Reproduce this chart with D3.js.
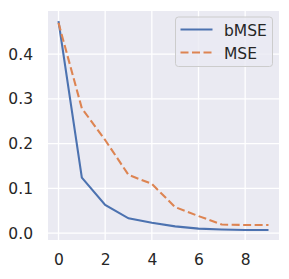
<!DOCTYPE html>
<html lang="en">
<head>
<meta charset="utf-8">
<title>bMSE vs MSE</title>
<script src="https://cdn.jsdelivr.net/npm/d3@7"></script>
<style>
body { margin: 0; background: #fff; }
text { font-family: "DejaVu Sans", sans-serif; fill: #262626; }
</style>
</head>
<body>
<script>
// data
var epochs = [0, 1, 2, 3, 4, 5, 6, 7, 8, 9];
var bmse = [0.474, 0.124, 0.063, 0.033, 0.023, 0.015, 0.010, 0.008, 0.007, 0.007];
var mse = [0.470, 0.279, 0.208, 0.130, 0.110, 0.058, 0.038, 0.019, 0.018, 0.018];
var xTicks = [0, 2, 4, 6, 8];
var yTicks = [0.0, 0.1, 0.2, 0.3, 0.4];
var names = ["bMSE", "MSE"];
var colors = ["#4c72b0", "#dd8452"];

var W = 289, H = 279;
var m = {left: 48, top: 11, right: 10, bottom: 39};
var fs = 15.5;

var svg = d3.select("body").append("svg")
  .attr("width", W).attr("height", H);

var x = d3.scaleLinear().domain([-0.45, 9.45]).range([m.left, W - m.right]);
var y = d3.scaleLinear().domain([-0.0155, 0.4965]).range([H - m.bottom, m.top]);

svg.append("rect")
  .attr("x", m.left).attr("y", m.top)
  .attr("width", W - m.right - m.left).attr("height", H - m.bottom - m.top)
  .attr("fill", "#eaeaf2");

// grid
svg.append("g").selectAll("line").data(xTicks).enter().append("line")
  .attr("x1", d => x(d)).attr("x2", d => x(d))
  .attr("y1", m.top).attr("y2", H - m.bottom)
  .attr("stroke", "#fff").attr("stroke-width", 1.3);
svg.append("g").selectAll("line").data(yTicks).enter().append("line")
  .attr("x1", m.left).attr("x2", W - m.right)
  .attr("y1", d => y(d)).attr("y2", d => y(d))
  .attr("stroke", "#fff").attr("stroke-width", 1.3);

// axes (labels only)
var xAxis = d3.axisBottom(x).tickValues(xTicks).tickSize(0).tickPadding(14).tickFormat(d3.format("d"));
var yAxis = d3.axisLeft(y).tickValues(yTicks).tickSize(0).tickPadding(15).tickFormat(d3.format(".1f"));
var gx = svg.append("g").attr("transform", "translate(0," + (H - m.bottom) + ")").call(xAxis);
var gy = svg.append("g").attr("transform", "translate(" + m.left + ",0)").call(yAxis);
[gx, gy].forEach(function(g) {
  g.select(".domain").remove();
  g.selectAll("text").attr("font-size", fs).attr("font-family", "DejaVu Sans, sans-serif").attr("fill", "#262626");
});

var line = d3.line().x((d, i) => x(epochs[i])).y(d => y(d));

svg.append("path").datum(bmse)
  .attr("d", line).attr("fill", "none")
  .attr("stroke", colors[0]).attr("stroke-width", 2.1);
svg.append("path").datum(mse)
  .attr("d", line).attr("fill", "none")
  .attr("stroke", colors[1]).attr("stroke-width", 2.1)
  .attr("stroke-dasharray", "8,3.5");

// legend
var lg = svg.append("g");
lg.append("rect")
  .attr("x", 175.5).attr("y", 17).attr("width", 97).attr("height", 49.5)
  .attr("rx", 3).attr("fill", "#eaeaf2").attr("fill-opacity", 0.8)
  .attr("stroke", "#cccccc").attr("stroke-width", 1);
names.forEach(function(n, i) {
  var yy = 29.5 + i * 23;
  lg.append("line")
    .attr("x1", 180.5).attr("x2", 212.5).attr("y1", yy).attr("y2", yy)
    .attr("stroke", colors[i]).attr("stroke-width", 2.1)
    .attr("stroke-dasharray", i === 1 ? "8,3.5" : null);
  lg.append("text").attr("x", 224).attr("y", yy + 6)
    .attr("font-size", fs).text(n);
});
</script>
</body>
</html>
